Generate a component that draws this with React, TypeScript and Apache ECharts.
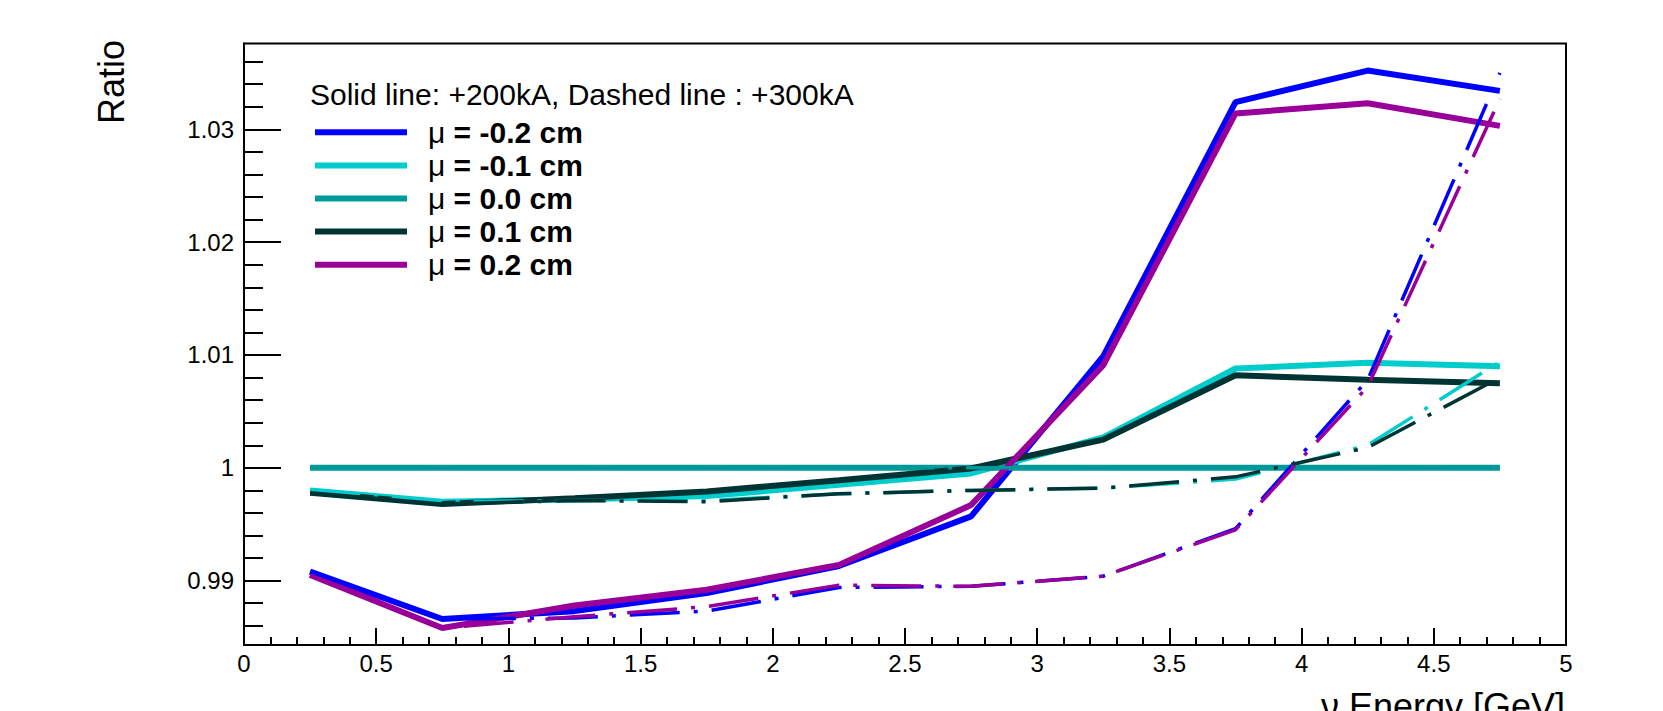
import React, { useEffect, useRef } from "react";
import * as echarts from "echarts";

// ---- data ----
const energies = [0.25, 0.75, 1.25, 1.75, 2.25, 2.75, 3.25, 3.75, 4.25, 4.75];
const seriesNames = ["μ = -0.2 cm", "μ = -0.1 cm", "μ = 0.0 cm", "μ = 0.1 cm", "μ = 0.2 cm"];
const seriesColors = ["#0000ff", "#00cccc", "#009999", "#003333", "#990099"];

// Solid line: +200kA
const solidM02 = [0.9908, 0.9866, 0.9873, 0.9889, 0.9913, 0.9957, 1.0099, 1.0324, 1.0352, 1.0334];
const solidM01 = [0.998, 0.997, 0.9972, 0.9975, 0.9985, 0.9995, 1.0027, 1.0088, 1.0093, 1.009];
const solidZ00 = [1, 1, 1, 1, 1, 1, 1, 1, 1, 1];
const solidP01 = [0.9978, 0.9968, 0.9973, 0.9979, 0.9989, 0.99995, 1.0025, 1.0082, 1.0078, 1.0075];
const solidP02 = [0.9905, 0.9858, 0.9878, 0.9892, 0.9914, 0.9967, 1.0091, 1.0314, 1.0323, 1.0303];

// Dashed line: +300kA
const dashedM02 = [0.9908, 0.9866, 0.9867, 0.9873, 0.9894, 0.9895, 0.9904, 0.9946, 1.0078, 1.035];
const dashedM01 = [0.998, 0.997, 0.9971, 0.9971, 0.9977, 0.998, 0.9982, 0.999, 1.002, 1.0094];
const dashedZ00 = [1, 1, 1, 1, 1, 1, 1, 1, 1, 1];
const dashedP01 = [0.9978, 0.9968, 0.9971, 0.997, 0.9977, 0.998, 0.9982, 0.9992, 1.0018, 1.008];
const dashedP02 = [0.9905, 0.9858, 0.9868, 0.9877, 0.9896, 0.9895, 0.9904, 0.9945, 1.0072, 1.0327];

const solidSets = [solidM02, solidM01, solidZ00, solidP01, solidP02];
const dashedSets = [dashedM02, dashedM01, dashedZ00, dashedP01, dashedP02];

const yMajorTicks = [0.99, 1, 1.01, 1.02, 1.03];
const yMinorTicks = [
  0.986, 0.988, 0.992, 0.994, 0.996, 0.998, 1.002, 1.004, 1.006, 1.008, 1.012, 1.014,
  1.016, 1.018, 1.022, 1.024, 1.026, 1.028, 1.032, 1.034, 1.036,
];
const yMin = 0.9843;
const yMax = 1.0376;
const xMin = 0;
const xMax = 5;
const xInterval = 0.5;

const headerText = "Solid line: +200kA, Dashed line : +300kA";
const yTitle = "Ratio";
const xTitle = "ν Energy [GeV]";

const FONT = "'Liberation Sans', Arial, Helvetica, sans-serif";

function pairs(vals: number[]) {
  return energies.map((x, i) => [x, vals[i]]);
}

export default function App() {
  const ref = useRef<HTMLDivElement>(null);
  useEffect(() => {
    document.body.style.margin = "0";
    document.body.style.overflow = "hidden";
    const chart = echarts.init(ref.current!, undefined, { renderer: "svg" });

    const series: any[] = [];
    solidSets.forEach((vals, i) => {
      series.push({
        name: seriesNames[i],
        type: "line",
        data: pairs(vals),
        showSymbol: false,
        symbol: "none",
        color: seriesColors[i],
        lineStyle: { color: seriesColors[i], width: 6, type: "solid" },
        z: 2,
      });
    });
    dashedSets.forEach((vals, i) => {
      series.push({
        name: seriesNames[i] + " (+300kA)",
        type: "line",
        data: pairs(vals),
        showSymbol: false,
        symbol: "none",
        color: seriesColors[i],
        lineStyle: { color: seriesColors[i], width: 3.5, type: [50, 14, 4, 14] },
        z: 3,
      });
    });

    const option: any = {
      animation: false,
      backgroundColor: "#ffffff",
      textStyle: { fontFamily: FONT },
      grid: {
        left: 244,
        right: 97,
        top: 43.5,
        bottom: 66,
        show: true,
        borderColor: "#000",
        borderWidth: 2,
        backgroundColor: "transparent",
        outerBoundsMode: "none",
        containLabel: false,
      },
      legend: {
        data: seriesNames,
        orient: "vertical",
        left: 315,
        top: 117.3,
        padding: 0,
        itemGap: 3.1,
        itemWidth: 92,
        itemHeight: 6,
        icon: "rect",
        selectedMode: false,
        formatter: (name: string) => `{m|μ}{b|${name.replace("μ", "")}}`,
        textStyle: {
          fontFamily: FONT,
          color: "#000",
          fontSize: 30,
          lineHeight: 30,
          rich: {
            m: {
              fontFamily: FONT,
              fontSize: 30,
              fontWeight: "normal",
              color: "#000",
              lineHeight: 30,
              padding: [0, 0, 0, 16],
            },
            b: {
              fontFamily: FONT,
              fontSize: 30,
              fontWeight: "bold",
              color: "#000",
              lineHeight: 30,
            },
          },
        },
      },
      xAxis: {
        type: "value",
        min: xMin,
        max: xMax,
        interval: xInterval,
        axisLine: { show: true, lineStyle: { color: "#000", width: 2 } },
        axisTick: { show: true, inside: true, length: 17, lineStyle: { color: "#000", width: 2 } },
        minorTick: { show: true, splitNumber: 5, length: 8, lineStyle: { color: "#000", width: 2 } },
        splitLine: { show: false },
        minorSplitLine: { show: false },
        axisLabel: { fontSize: 24, color: "#000", margin: 6, fontFamily: FONT },
      },
      yAxis: [
        {
          type: "value",
          min: yMin,
          max: yMax,
          position: "left",
          axisLine: { show: true, lineStyle: { color: "#000", width: 2 } },
          axisTick: {
            show: true,
            inside: true,
            length: 37,
            customValues: yMajorTicks,
            lineStyle: { color: "#000", width: 2 },
          },
          axisLabel: {
            show: true,
            customValues: yMajorTicks,
            fontSize: 24,
            color: "#000",
            margin: 10,
            fontFamily: FONT,
            formatter: (v: number) => String(parseFloat(Number(v).toFixed(4))),
          },
          splitLine: { show: false },
        },
        {
          type: "value",
          min: yMin,
          max: yMax,
          position: "left",
          offset: 0,
          axisLine: { show: false },
          axisTick: {
            show: true,
            inside: true,
            length: 19,
            customValues: yMinorTicks,
            lineStyle: { color: "#000", width: 2 },
          },
          axisLabel: { show: false },
          splitLine: { show: false },
        },
      ],
      graphic: [
        {
          type: "text",
          x: 310,
          y: 94,
          style: {
            text: headerText,
            fontSize: 30,
            fontFamily: FONT,
            fill: "#000",
            align: "left",
            verticalAlign: "middle",
          },
        },
        {
          type: "text",
          x: 111,
          y: 40,
          rotation: Math.PI / 2,
          style: {
            text: yTitle,
            fontSize: 36,
            fontFamily: FONT,
            fill: "#000",
            align: "right",
            verticalAlign: "middle",
          },
        },
        {
          type: "text",
          x: 1565,
          y: 706,
          style: {
            text: xTitle,
            fontSize: 36,
            fontFamily: FONT,
            fill: "#000",
            align: "right",
            verticalAlign: "middle",
          },
        },
      ],
      series,
    };
    chart.setOption(option);
    return () => chart.dispose();
  }, []);
  return <div ref={ref} style={{ width: 1663, height: 711 }} />;
}
